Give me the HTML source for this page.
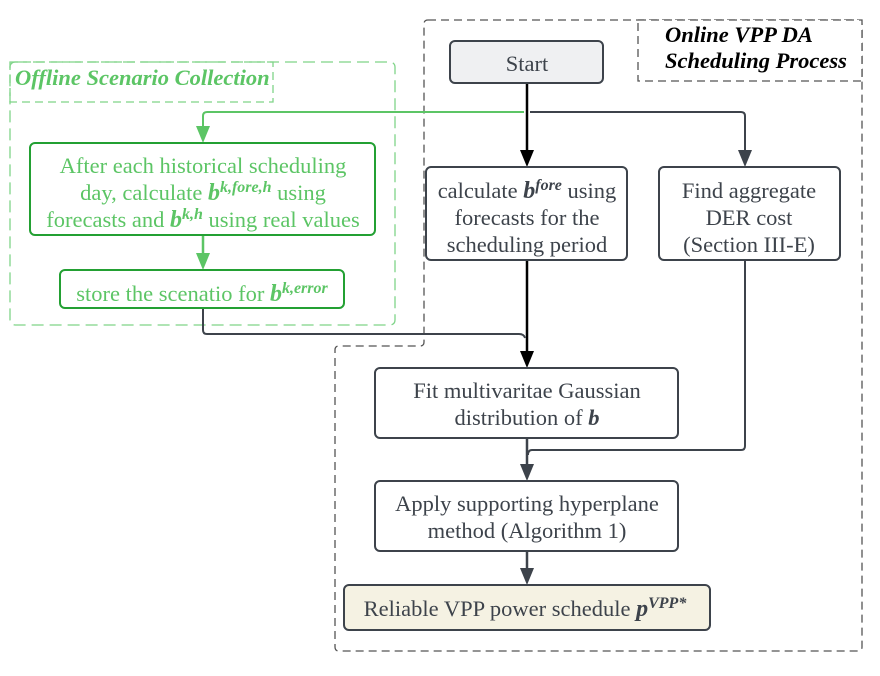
<!DOCTYPE html>
<html><head><meta charset="utf-8"><style>
html,body{margin:0;padding:0;background:#fff}
svg{display:block}
text{font-family:"Liberation Serif",serif;font-size:22.5px}
</style></head><body>
<svg width="880" height="676" viewBox="0 0 880 676" xmlns="http://www.w3.org/2000/svg">
<!-- online container -->
<path d="M428,20 H858 Q862,20 862,24 V647 Q862,651 858,651 H339 Q335,651 335,647 V350 Q335,346 339,346 H420 Q424,346 424,342 V24 Q424,20 428,20 Z" fill="none" stroke="#555" stroke-width="1.3" stroke-dasharray="8,5"/>
<rect x="638" y="20" width="224" height="61" fill="#fff" stroke="#555" stroke-width="1.3" stroke-dasharray="8,5"/>
<text x="665" y="42" font-weight="bold" font-style="italic">Online VPP DA</text>
<text x="665" y="68" font-weight="bold" font-style="italic">Scheduling Process</text>
<!-- offline container -->
<rect x="10" y="62" width="385" height="263" rx="5" fill="none" stroke="#7fd488" stroke-width="1.3" stroke-dasharray="12,6"/>
<rect x="10" y="62" width="263" height="40" fill="none" stroke="#7fd488" stroke-width="1.3" stroke-dasharray="8,5"/>
<text x="15" y="85" font-weight="bold" font-style="italic" fill="#5cc565">Offline Scenario Collection</text>

<!-- connectors -->
<path d="M527,83 V152" stroke="#000" stroke-width="2.5" fill="none"/>
<path d="M520,150 L534,150 L527,167 z" fill="#000"/>
<path d="M524,112 H207 Q203,112 203,116 V128" stroke="#5cc565" stroke-width="2" fill="none"/>
<path d="M196,126 L210,126 L203,143 z" fill="#5cc565"/>
<path d="M530,112 H741 Q745,112 745,116 V152" stroke="#3d434b" stroke-width="2" fill="none"/>
<path d="M738,150 L752,150 L745,167 z" fill="#3d434b"/>
<path d="M203,235 V255" stroke="#5cc565" stroke-width="2.5" fill="none"/>
<path d="M196,253 L210,253 L203,270 z" fill="#5cc565"/>
<path d="M527,260 V353" stroke="#000" stroke-width="2.5" fill="none"/>
<path d="M520,351 L534,351 L527,368 z" fill="#000"/>
<path d="M203,308 V330 Q203,334 207,334 H519 Q524,334 525,338" stroke="#3d434b" stroke-width="2" fill="none"/>
<path d="M527,438 V466" stroke="#3d434b" stroke-width="2.5" fill="none"/>
<path d="M745,260 V446 Q745,450 741,450 H532 Q528,450 528,455" stroke="#3d434b" stroke-width="2" fill="none"/>
<path d="M520,464 L534,464 L527,481 z" fill="#3d434b"/>
<path d="M527,551 V570" stroke="#3d434b" stroke-width="2.5" fill="none"/>
<path d="M520,568 L534,568 L527,585 z" fill="#3d434b"/>

<!-- boxes -->
<rect x="450" y="41" width="153" height="42" rx="5" fill="#eff0f2" stroke="#3d434b" stroke-width="2"/>
<text x="527" y="71" text-anchor="middle" fill="#3d434b">Start</text>

<rect x="30" y="143" width="345" height="92" rx="5" fill="#fff" stroke="#23a033" stroke-width="2"/>
<g fill="#5cc565" text-anchor="middle">
<text x="203" y="173">After each historical scheduling</text>
<text x="203" y="200">day, calculate <tspan font-weight="bold" font-style="italic" font-size="24">b</tspan><tspan font-weight="bold" font-style="italic" font-size="16" dy="-8">k,fore,h</tspan><tspan dy="8"> using</tspan></text>
<text x="203" y="227">forecasts and <tspan font-weight="bold" font-style="italic" font-size="24">b</tspan><tspan font-weight="bold" font-style="italic" font-size="16" dy="-8">k,h</tspan><tspan dy="8"> using real values</tspan></text>
</g>
<rect x="60" y="270" width="284" height="38" rx="5" fill="#fff" stroke="#23a033" stroke-width="2"/>
<text x="202" y="301" text-anchor="middle" fill="#5cc565">store the scenatio for <tspan font-weight="bold" font-style="italic" font-size="24">b</tspan><tspan font-weight="bold" font-style="italic" font-size="16" dy="-8">k,error</tspan></text>

<rect x="426" y="167" width="201" height="93" rx="5" fill="#fff" stroke="#3d434b" stroke-width="2"/>
<g fill="#3d434b" text-anchor="middle">
<text x="527" y="198">calculate <tspan font-weight="bold" font-style="italic" font-size="24">b</tspan><tspan font-weight="bold" font-style="italic" font-size="16" dy="-8">fore</tspan><tspan dy="8"> using</tspan></text>
<text x="527" y="225">forecasts for the</text>
<text x="527" y="252">scheduling period</text>
</g>
<rect x="659" y="167" width="181" height="93" rx="5" fill="#fff" stroke="#3d434b" stroke-width="2"/>
<g fill="#3d434b" text-anchor="middle">
<text x="749" y="198">Find aggregate</text>
<text x="749" y="225">DER cost</text>
<text x="749" y="252">(Section III-E)</text>
</g>

<rect x="375" y="368" width="303" height="70" rx="5" fill="#fff" stroke="#3d434b" stroke-width="2"/>
<g fill="#3d434b" text-anchor="middle">
<text x="527" y="398">Fit multivaritae Gaussian</text>
<text x="527" y="425">distribution of <tspan font-weight="bold" font-style="italic">b</tspan></text>
</g>
<rect x="375" y="481" width="303" height="70" rx="5" fill="#fff" stroke="#3d434b" stroke-width="2"/>
<g fill="#3d434b" text-anchor="middle">
<text x="527" y="511">Apply supporting hyperplane</text>
<text x="527" y="538">method (Algorithm 1)</text>
</g>
<rect x="344" y="585" width="366" height="45" rx="5" fill="#f5f2e3" stroke="#3d434b" stroke-width="2"/>
<text x="525" y="616" text-anchor="middle" fill="#3d434b">Reliable VPP power schedule <tspan font-weight="bold" font-style="italic" font-size="24">p</tspan><tspan font-weight="bold" font-style="italic" font-size="16" dy="-8">VPP*</tspan></text>
</svg>
</body></html>
